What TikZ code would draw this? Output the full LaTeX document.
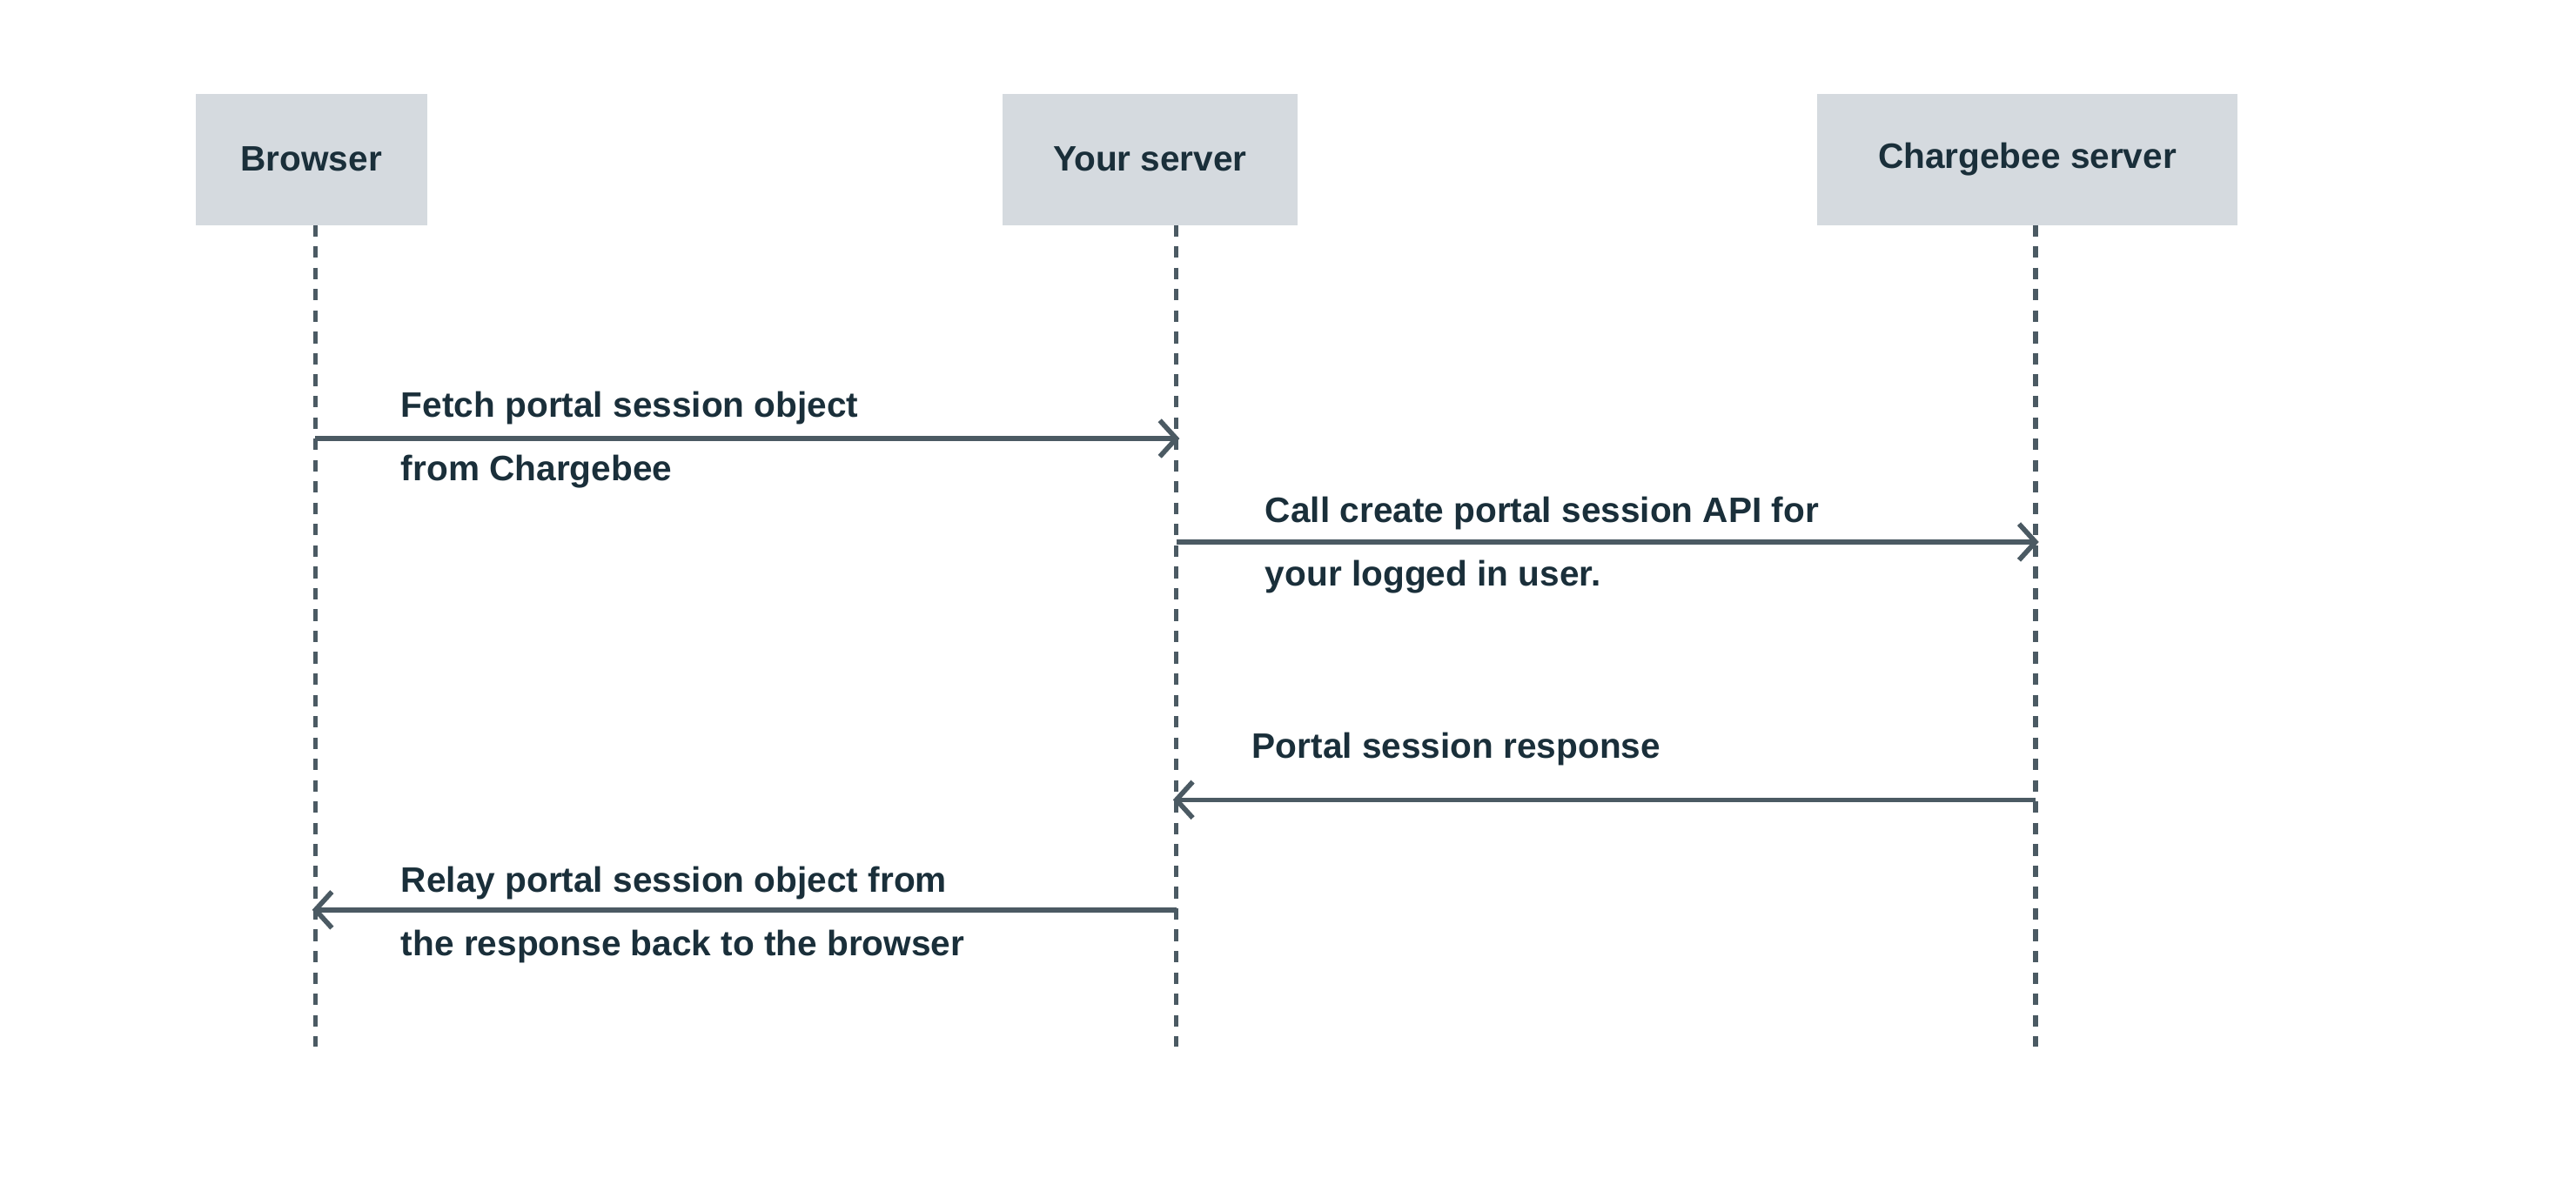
\documentclass[tikz,border=0pt]{standalone}
\usepackage{fontspec}
\setmainfont{Liberation Sans}
\usetikzlibrary{arrows.meta}
\definecolor{boxc}{HTML}{D5DADF}
\definecolor{linec}{HTML}{4B5A63}
\definecolor{txtc}{HTML}{1A2F3A}
\tikzset{
  actor/.style={fill=boxc,text=txtc,font=\fontsize{21.5}{25}\selectfont\bfseries,inner sep=0pt,minimum height=80pt},
  life/.style={draw=linec,line width=3pt,dash pattern=on 7pt off 6pt},
  msg/.style={draw=linec,line width=3pt,-{Straight Barb[length=10pt,width=22pt,line width=3pt]}},
  lbl/.style={text=txtc,font=\fontsize{21.5}{38.5}\selectfont\bfseries,align=left,anchor=west,inner sep=0pt}
}
\begin{document}
\begin{tikzpicture}[x=1pt,y=-1pt]
\useasboundingbox[fill=white] (0,0) rectangle (1568,729);
\node[actor,minimum width=141pt] (b) at (189.5,97) {Browser};
\node[actor,minimum width=180pt] (s) at (700,97) {Your server};
\node[actor,minimum width=256pt] (c) at (1234,97) {Chargebee server};
\coordinate (bt) at (192,137); \coordinate (bb) at (192,637);
\coordinate (st) at (716,137); \coordinate (sb) at (716,637);
\coordinate (ct) at (1239,137); \coordinate (cb) at (1239,637);
\draw[life] (bt) -- (bb);
\draw[life] (st) -- (sb);
\draw[life] (ct) -- (cb);
\coordinate (a1s) at (192,267); \coordinate (a1e) at (718,267);
\coordinate (a2s) at (716,330); \coordinate (a2e) at (1241,330);
\coordinate (a3s) at (1239,487); \coordinate (a3e) at (714,487);
\coordinate (a4s) at (716,554); \coordinate (a4e) at (190,554);
\draw[msg] (a1s) -- (a1e);
\draw[msg] (a2s) -- (a2e);
\draw[msg] (a3s) -- (a3e);
\draw[msg] (a4s) -- (a4e);
\node[lbl] (l1) at (244,268) {Fetch portal session object\\from Chargebee};
\node[lbl] (l2) at (770,332) {Call create portal session API for\\your logged in user.};
\node[lbl] (l3) at (762,456) {Portal session response};
\node[lbl] (l4) at (244,557) {Relay portal session object from\\the response back to the browser};
\end{tikzpicture}
\end{document}
